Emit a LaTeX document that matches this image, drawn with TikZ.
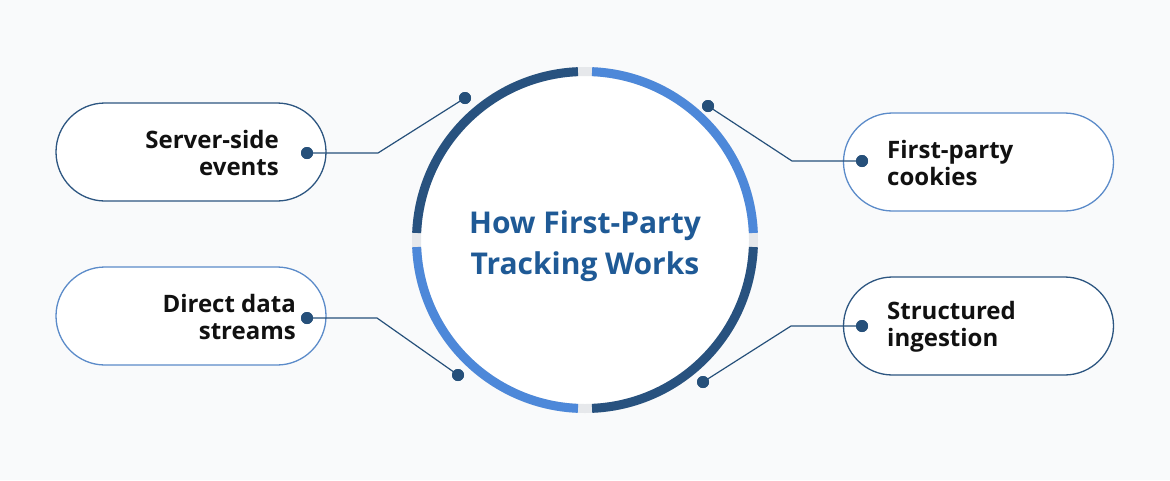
\documentclass[tikz,border=0pt]{standalone}
\usepackage{fontspec}
\setmainfont{Open Sans}
\usetikzlibrary{shapes.misc}
\definecolor{bgc}{HTML}{F9FAFB}
\definecolor{darkring}{HTML}{28527F}
\definecolor{lightring}{HTML}{4D88D9}
\definecolor{gapc}{HTML}{E6E8EB}
\definecolor{dotc}{HTML}{26507A}
\definecolor{pilldark}{HTML}{2D5681}
\definecolor{pilllight}{HTML}{5B8BC9}
\definecolor{titlec}{HTML}{1F5A96}
\definecolor{txtc}{HTML}{111111}
\tikzset{
  pill/.style={rounded rectangle, minimum width=270pt, minimum height=98pt, line width=1.3pt, fill=white, inner sep=0pt},
  lbl/.style={font=\bfseries\fontsize{24}{27.5}\selectfont, text=txtc, inner sep=0pt},
  dotn/.style={circle, fill=dotc, minimum size=12pt, inner sep=0pt},
  conn/.style={draw=dotc, line width=1.2pt},
  ring/.style={line width=9pt}
}
\begin{document}
\begin{tikzpicture}[x=1pt,y=-1pt]
\useasboundingbox (0,0) rectangle (1170,480);
\fill[bgc] (0,0) rectangle (1170,480);

% central circle
\fill[white] (585,240) circle (164);
\begin{scope}[shift={(585,240)}, yscale=-1]
\draw[ring, gapc] (0,0) circle (168.5);
\draw[ring, lightring] (2.4:168.5) arc[start angle=2.4, end angle=87.6, radius=168.5];
\draw[ring, darkring] (92.4:168.5) arc[start angle=92.4, end angle=177.6, radius=168.5];
\draw[ring, lightring] (182.4:168.5) arc[start angle=182.4, end angle=267.6, radius=168.5];
\draw[ring, darkring] (272.4:168.5) arc[start angle=272.4, end angle=357.6, radius=168.5];
\end{scope}

\node[font=\bfseries\fontsize{30}{41}\selectfont, text=titlec, align=center] (title) at (585,246) {How First-Party\\Tracking Works};

% pills
\node[pill, draw=pilldark] (p1) at (191,152) {};
\node[pill, draw=pilllight] (p2) at (978.5,162) {};
\node[pill, draw=pilllight] (p3) at (191,316) {};
\node[pill, draw=pilldark] (p4) at (978.5,326) {};

\node[lbl, align=right, anchor=east] (t1) at (279,153) {Server-side\\events};
\node[lbl, align=left, anchor=west] (t2) at (887,163) {First-party\\cookies};
\node[lbl, align=right, anchor=east] (t3) at (296,317) {Direct data\\streams};
\node[lbl, align=left, anchor=west] (t4) at (887,327) {Structured\\ingestion};

% dots
\node[dotn] (d1a) at (307,153) {};
\node[dotn] (d1b) at (465,98) {};
\node[dotn] (d2a) at (862,161) {};
\node[dotn] (d2b) at (708,106) {};
\node[dotn] (d3a) at (307,318) {};
\node[dotn] (d3b) at (458,375) {};
\node[dotn] (d4a) at (862,326) {};
\node[dotn] (d4b) at (703,382) {};

\coordinate (e1) at (378,153);
\coordinate (e2) at (792,161);
\coordinate (e3) at (377,318);
\coordinate (e4) at (791,326);

\draw[conn] (d1a.center) -- (e1) -- (d1b.center);
\draw[conn] (d2a.center) -- (e2) -- (d2b.center);
\draw[conn] (d3a.center) -- (e3) -- (d3b.center);
\draw[conn] (d4a.center) -- (e4) -- (d4b.center);
\node[dotn] at (d1a) {};
\node[dotn] at (d1b) {};
\node[dotn] at (d2a) {};
\node[dotn] at (d2b) {};
\node[dotn] at (d3a) {};
\node[dotn] at (d3b) {};
\node[dotn] at (d4a) {};
\node[dotn] at (d4b) {};
\end{tikzpicture}
\end{document}
